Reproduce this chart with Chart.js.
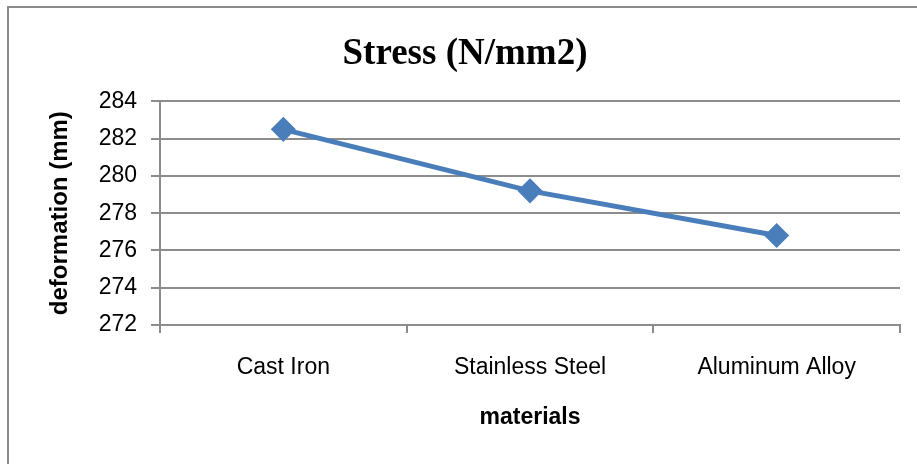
<!DOCTYPE html>
<html>
<head>
<meta charset="utf-8">
<title>Stress chart</title>
<script src="https://cdn.jsdelivr.net/npm/chart.js@4"></script>
<style>
  html, body { margin: 0; padding: 0; background: #fff; }
  #wrap { width: 917px; height: 464px; position: relative; }
</style>
</head>
<body>
<div id="wrap"><canvas id="chart"></canvas></div>
<script>
// data
const materials = ["Cast Iron", "Stainless Steel", "Aluminum Alloy"];
const stressValues = [282.5, 279.2, 276.8];
const yMin = 272;
const yMax = 284;
const yStep = 2;

const gridColor = "#8c8c8c";
const lineColor = "#4a7ebb";
const sans = "'Liberation Sans', Arial, sans-serif";

// outer frame (only left and top edges show in the picture)
const framePlugin = {
  id: "frame",
  beforeDraw(chart) {
    const ctx = chart.ctx;
    ctx.save();
    ctx.fillStyle = "#fff";
    ctx.fillRect(0, 0, chart.width, chart.height);
    ctx.strokeStyle = "#8c8c8c";
    ctx.lineWidth = 2;
    ctx.beginPath();
    ctx.moveTo(8, chart.height);
    ctx.lineTo(8, 7);
    ctx.lineTo(chart.width, 7);
    ctx.stroke();
    ctx.restore();
  },
};

new Chart(document.getElementById("chart"), {
  type: "line",
  data: {
    labels: materials,
    datasets: [
      {
        label: "Stress (N/mm2)",
        data: stressValues,
        borderColor: lineColor,
        backgroundColor: lineColor,
        borderWidth: 5,
        pointStyle: "rectRot",
        pointRadius: 9,
        pointHoverRadius: 9,
        tension: 0,
      },
    ],
  },
  options: {
    responsive: true,
    maintainAspectRatio: false,
    animation: false,
    layout: { padding: { left: 30, right: 17, top: 0, bottom: 0 } },
    plugins: {
      legend: { display: false },
      tooltip: { enabled: false },
      title: {
        display: true,
        text: "Stress (N/mm2)",
        color: "#000",
        font: { family: "'Liberation Serif', 'Times New Roman', serif", size: 37, weight: "bold" },
        padding: { top: 32, bottom: 25 },
      },
    },
    scales: {
      x: {
        offset: true,
        afterFit(scale) { scale.height = 139; },
        grid: {
          offset: true,
          drawOnChartArea: false,
          drawTicks: true,
          tickLength: 8,
          color: gridColor,
          lineWidth: 2,
        },
        border: { color: gridColor, width: 2 },
        ticks: {
          color: "#000",
          padding: 21,
          maxRotation: 0,
          font: { family: sans, size: 23 },
        },
        title: {
          display: true,
          text: "materials",
          color: "#000",
          font: { family: sans, size: 23, weight: "bold" },
          padding: { top: 0, bottom: 33 },
        },
      },
      y: {
        min: yMin,
        max: yMax,
        afterFit(scale) { scale.width = 130; },
        grid: {
          color: gridColor,
          lineWidth: 2,
          tickLength: 9,
        },
        border: { color: gridColor, width: 2 },
        ticks: {
          stepSize: yStep,
          color: "#000",
          padding: 14,
          font: { family: sans, size: 23 },
        },
        title: {
          display: true,
          text: "deformation (mm)",
          color: "#000",
          font: { family: sans, size: 24, weight: "bold" },
          padding: { top: 16, bottom: 0 },
        },
      },
    },
  },
  plugins: [framePlugin],
});
</script>
</body>
</html>
